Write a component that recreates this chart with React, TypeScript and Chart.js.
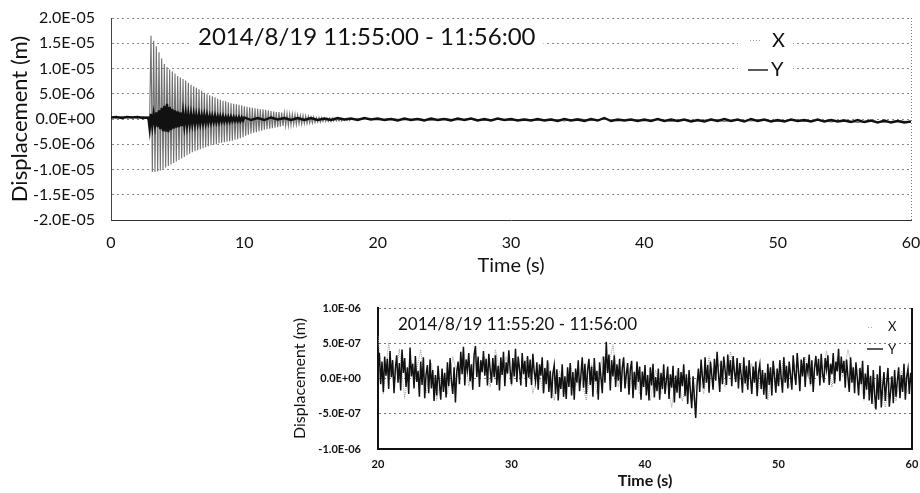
import React, { useEffect, useRef } from "react";
import { Chart, registerables } from "chart.js";

Chart.register(...registerables);

const FONT = "Lato, 'Noto Sans', sans-serif";
const UM = 1e-6; // top-chart series are written in micrometres
const U7 = 1e-7; // bottom-chart series are written in units of 1e-7 m

// ---------------- top chart: 2014/8/19 11:55:00 - 11:56:00 ----------------
const topTitle = "2014/8/19 11:55:00 - 11:56:00";
const topXTickValues = [0, 10, 20, 30, 40, 50, 60];
const topXTickLabels = ["0", "10", "20", "30", "40", "50", "60"];
const topYTickValues = [-2e-5, -1.5e-5, -1e-5, -5e-6, 0, 5e-6, 1e-5, 1.5e-5, 2e-5];
const topYTickLabels = ["-2.0E-05", "-1.5E-05", "-1.0E-05", "-5.0E-06", "0.0E+00", "5.0E-06", "1.0E-05", "1.5E-05", "2.0E-05"];

// X direction (grey), before the event: t = 0 .. 2.8 s, every 0.4 s
const topXPreStart = 0;
const topXPreStep = 0.4;
const topXPre = [0.4, 0.2, 0.5, 0.3, 0.4, 0.2, 0.5, 0.3];
// X direction, the ringing event: t = 2.9 .. 18.0 s, every 0.1 s
const topXEventStart = 2.9;
const topXEventStep = 0.1;
const topXEvent = [
  0.3,
  16.5, -10.5, 15.5, -10.5, 14.4, -10.4, 13.2, -10.2, 12.0, -9.9,
  10.9, -9.6, 10.3, -9.3, 9.8, -9.0, 9.4, -8.7, 9.0, -8.4,
  8.5, -8.1, 8.2, -7.8, 7.9, -7.5, 7.6, -7.2, 7.2, -6.9,
  6.8, -6.6, 6.5, -6.4, 6.2, -6.2, 5.9, -6.0, 5.6, -5.8,
  5.2, -5.6, 4.9, -5.4, 4.7, -5.2, 4.5, -5.1, 4.3, -5.0,
  4.0, -4.8, 3.8, -4.7, 3.6, -4.6, 3.5, -4.5, 3.3, -4.4,
  3.1, -4.3, 3.0, -4.1, 2.9, -4.0, 2.8, -3.8, 2.7, -3.6,
  2.5, -3.3, 2.4, -3.1, 2.3, -2.9, 2.2, -2.7, 2.1, -2.6,
  2.0, -2.4, 1.9, -2.3, 1.9, -2.1, 1.8, -2.0, 1.7, -1.9,
  1.6, -1.8, 1.5, -1.7, 1.4, -1.6, 1.4, -1.5, 1.3, -1.4,
  1.2, -1.3, 1.1, -1.3, 1.0, -1.2, 1.0, -1.1, 0.9, -1.1,
  0.8, -1.0, 0.7, -1.0, 0.7, -0.9, 0.6, -0.9, 0.5, -0.8,
  0.4, -0.8, 0.4, -0.7, 0.3, -0.6, 0.3, -0.6, 0.3, -0.5,
  0.2, -0.5, 0.2, -0.5, 0.2, -0.5, 0.2, -0.4, 0.1, -0.4,
  0.1, -0.4, 0.1, -0.4, 0.1, -0.3, 0.1, -0.3, 0.1, -0.3,
  0.0,
];
// X direction after the event: t = 19 .. 60 s, every 1 s
const topXPostStart = 19;
const topXPostStep = 1;
const topXPost = [
  0.1, -0.2, 0.1, -0.2, 0.1, -0.3, 0.1, -0.2, 0.1, -0.3,
  0.0, -0.3, 0.0, -0.3, 0.0, -0.4, 0.1, -0.3, 0.0, -0.4,
  -0.1, -0.4, 0.0, -0.5, -0.1, -0.4, 0.0, -0.5, -0.1, -0.4,
  -0.1, -0.5, -0.1, -0.5, -0.2, -0.6, -0.2, -0.7, -0.3, -0.7,
  -0.3, -0.6,
];

// Y direction (black), before the event: t = 0 .. 2.8 s, every 0.4 s
const topYPreStart = 0;
const topYPreStep = 0.4;
const topYPre = [0.3, 0.4, 0.2, 0.4, 0.3, 0.4, 0.2, 0.3];
// Y direction, the burst: t = 2.9 .. 9.9 s, every 0.1 s
const topYEventStart = 2.9;
const topYEventStep = 0.1;
const topYEvent = [
  -2.0,
  1.0, -1.4, 0.9, -1.2, 1.3, -1.6, 1.7, -2.0, 2.2, -2.4,
  2.6, -2.5, 3.0, -2.6, 2.4, -2.2, 2.0, -1.9, 1.7, -1.7,
  1.5, -1.6, 1.3, -1.4, 1.2, -1.3, 1.1, -1.2, 1.0, -1.1,
  0.9, -1.0, 0.9, -1.0, 0.8, -0.9, 0.8, -0.9, 0.7, -0.8,
  0.8, -0.8, 0.7, -0.7, 0.6, -0.7, 0.6, -0.6, 0.6, -0.6,
  0.5, -0.6, 0.5, -0.5, 0.5, -0.5, 0.4, -0.5, 0.4, -0.5,
  0.4, -0.4, 0.4, -0.4, 0.3, -0.4, 0.3, -0.4, 0.3, -0.3,
];
// Y direction after the burst: t = 10 .. 60 s, every 0.5 s
const topYPostStart = 10;
const topYPostStep = 0.5;
const topYPost = [
  0.3, -0.2, 0.2, -0.2, 0.3, -0.1, 0.2, -0.2, 0.2, -0.2,
  0.2, -0.2, 0.1, -0.2, 0.2, -0.1, 0.1, -0.2, 0.2, -0.1,
  0.1, -0.2, 0.0, -0.3, 0.1, -0.2, 0.0, -0.3, 0.1, -0.2,
  0.0, -0.3, 0.1, -0.2, 0.1, -0.3, 0.0, -0.3, 0.1, -0.2,
  0.0, -0.3, -0.1, -0.3, 0.0, -0.3, -0.1, -0.4, 0.0, -0.3,
  -0.1, -0.4, 0.0, -0.3, 0.2, -0.4, -0.1, -0.3, -0.1, -0.4,
  -0.1, -0.4, 0.0, -0.4, -0.1, -0.4, -0.1, -0.5, -0.2, -0.5,
  -0.1, -0.4, 0.0, -0.4, -0.1, -0.5, 0.0, -0.4, -0.1, -0.5,
  -0.2, -0.5, -0.1, -0.4, -0.2, -0.5, -0.1, -0.5, -0.2, -0.5,
  -0.3, -0.6, -0.2, -0.6, -0.3, -0.7, -0.3, -0.7, -0.4, -0.7,
  -0.5,
];

// ---------------- bottom chart: 2014/8/19 11:55:20 - 11:56:00 ----------------
const botTitle = "2014/8/19 11:55:20 - 11:56:00";
const botXTickValues = [20, 30, 40, 50, 60];
const botXTickLabels = ["20", "30", "40", "50", "60"];
const botYTickValues = [-1e-6, -5e-7, 0, 5e-7, 1e-6];
const botYTickLabels = ["-1.0E-06", "-5.0E-07", "0.0E+00", "5.0E-07", "1.0E-06"];

// Y direction (black): t = 20 .. 60 s, every 0.1 s (one row per second)
const botYStart = 20;
const botYStep = 0.1;
const botY = [
  1.2, 3.6, -0.8, 2.4, -1.9, 3.1, 0.4, 2.8, -1.5, 3.9,
  0.2, 2.6, -2.1, 1.4, 3.3, -0.6, 2.2, -1.7, 4.1, 0.8,
  2.9, -1.2, 1.6, -2.2, 4.4, 0.3, 2.1, -1.4, 3.2, -0.5,
  1.1, -2.6, 2.4, -0.9, 3.0, -2.8, 0.6, 1.9, -2.1, 2.7,
  -1.4, 1.2, -3.2, 0.5, -2.4, 1.8, -0.7, -3.0, 1.4, -1.9,
  0.8, -2.7, 2.3, -1.1, 2.9, -0.4, -2.2, 1.6, -3.4, 0.9,
  2.4, -0.8, 3.8, 0.6, 4.5, -1.0, 2.7, 1.2, 3.6, -0.4,
  2.0, -1.6, 3.4, 4.6, 0.2, 3.1, -1.2, 2.6, 0.9, 3.9,
  0.4, 2.8, -1.0, 3.5, 1.3, -0.6, 2.9, 0.2, 3.3, -0.9,
  1.8, -1.7, 3.0, 0.5, 3.8, -1.1, 2.3, 0.7, 4.0, 1.2,
  -0.8, 2.9, 0.3, 4.2, -0.5, 3.1, 1.4, -1.0, 3.6, 0.6,
  2.5, -1.2, 3.2, 0.1, 2.7, -0.9, 3.5, 1.0, -0.4, 2.3,
  -1.6, 2.0, 0.4, 3.0, -2.1, 1.5, -0.8, 2.6, -1.9, 1.1,
  -2.8, 0.7, 1.9, -2.2, 1.3, -3.1, 0.2, -1.5, 2.0, -2.6,
  0.3, -2.9, 1.6, -1.2, 2.2, -2.4, 0.9, -3.0, 1.4, -0.6,
  2.6, -1.8, 0.5, 3.0, -1.3, 2.1, -2.2, 1.2, 2.8, -0.9,
  1.7, -2.6, 2.9, -0.4, 1.1, -3.0, 2.3, 0.2, -2.1, 3.1,
  -0.6, 5.2, 0.8, 3.4, -1.7, 2.6, 0.3, 3.3, -1.2, 2.0,
  -0.3, 2.8, -1.9, 1.5, 3.0, -1.4, 0.6, 2.2, -2.3, 1.3,
  2.5, -2.8, 0.9, -1.6, 2.4, -0.5, 1.7, -3.0, 1.0, -1.2,
  1.9, -2.4, 0.5, -3.1, 1.6, -1.0, 2.1, -2.7, 0.2, -1.8,
  1.4, -3.0, 0.8, -1.5, 2.0, -2.2, -0.3, 1.7, -2.9, 0.6,
  -1.3, 1.8, -3.4, 0.4, -2.0, 1.5, -2.8, 0.9, -1.1, 2.0,
  -2.5, 0.6, -3.6, 1.2, -1.8, -4.2, 0.3, -2.7, -5.6, -1.0,
  1.4, -1.9, 2.7, 0.2, -1.4, 3.0, -0.6, 1.9, -2.0, 2.4,
  0.5, -1.6, 2.8, -0.3, 3.8, 0.7, -1.9, 2.5, -0.8, 3.1,
  1.2, -0.9, 3.4, 0.4, 2.6, -1.1, 3.2, 0.9, -0.5, 2.9,
  -1.4, 2.2, 0.6, -2.0, 3.0, -0.7, 1.8, -1.6, 2.6, 0.1,
  -2.2, 1.7, -0.6, 2.4, -2.5, 0.9, 2.0, -1.5, 1.2, -2.3,
  0.8, -2.9, 2.1, -0.9, 1.6, -2.4, 2.5, 0.3, -2.0, 1.4,
  -1.1, 2.6, 0.2, -2.0, 3.0, -0.6, 1.8, -1.4, 2.4, 0.5,
  -1.6, 3.3, 0.8, -0.9, 3.6, 1.1, -1.8, 2.7, 0.3, 3.0,
  -1.2, 2.2, 0.9, 3.4, -0.8, 2.6, -1.9, 1.5, 3.2, 0.4,
  2.8, -1.0, 3.5, 0.7, -0.6, 2.9, 1.3, 3.3, -0.9, 2.1,
  0.6, 3.6, -0.7, 2.4, 1.0, 4.2, -0.4, 3.1, 0.8, 2.5,
  -1.3, 2.7, 0.3, -1.9, 3.0, -0.6, 1.6, -2.1, 2.3, 0.1,
  -2.4, 1.5, -0.8, 2.5, -2.9, 0.7, -1.6, 1.9, -3.1, 0.4,
  -3.6, 1.2, -2.3, -4.4, 0.6, -3.0, 1.8, -4.1, -1.2, 0.9,
  -3.2, -0.6, 1.5, -4.0, -1.8, 0.3, -3.5, 1.2, -2.6, -0.4,
  1.6, -2.8, 0.5, -1.9, 2.1, -3.0, 0.2, 1.4, -2.2, 0.8,
  -1.0,
];
// X direction (grey): t = 20 .. 60 s, every 0.4 s
const botXStart = 20;
const botXStep = 0.4;
const botX = [
  6.0, -2.2, 5.1, -1.2, 4.2, -2.8, 3.1, 0.2, 4.1, -2.1,
  2.2, -3.1, 1.1, -2.2, 3.1, 0.2, 4.1, -1.1, 3.2, 0.1,
  3.1, -1.2, 4.1, 0.2, 3.1, -1.1, 2.2, 0.1, 3.2, -2.1,
  1.2, -2.1, 2.2, -3.1, 1.1, -2.2, 2.1, -1.1, 0.2, -3.1,
  2.1, -2.2, 3.1, 1.1, 4.8, -1.2, 2.2, -2.1, 1.1, -2.2,
  0.1, -3.1, 1.2, -2.2, 0.2, -4.1, 1.1, -3.2, 0.1, -3.1,
  1.1, -2.2, 3.1, 0.2, 2.1, -1.2, 3.8, 0.1, 2.2, -1.1,
  2.1, -2.2, 1.1, -3.1, 2.2, -1.1, 3.1, -1.2, 2.1, 0.2,
  3.1, -1.1, 2.2, 0.1, 3.9, -1.2, 3.1, 0.2, 4.1, 1.1,
  1.2, -3.1, 0.1, -4.2, 1.1, -4.1, 0.2, -3.2, 1.1, -2.1,
  0.0,
];

function samples(start: number, step: number, values: number[], unit: number) {
  return values.map((v, i) => ({ x: Math.round((start + i * step) * 1000) / 1000, y: v * unit }));
}

const topXData = [
  ...samples(topXPreStart, topXPreStep, topXPre, UM),
  ...samples(topXEventStart, topXEventStep, topXEvent, UM),
  ...samples(topXPostStart, topXPostStep, topXPost, UM),
];
const topYData = [
  ...samples(topYPreStart, topYPreStep, topYPre, UM),
  ...samples(topYEventStart, topYEventStep, topYEvent, UM),
  ...samples(topYPostStart, topYPostStep, topYPost, UM),
];
const botYData = samples(botYStart, botYStep, botY, U7);
const botXData = samples(botXStart, botXStep, botX, U7);

const topOverlay = {
  id: "topOverlay",
  afterDatasetsDraw(chart: any) {
    const { ctx, chartArea: a } = chart;
    ctx.save();
    // dotted right frame
    ctx.strokeStyle = "#777";
    ctx.lineWidth = 1;
    ctx.setLineDash([1, 2]);
    ctx.beginPath();
    ctx.moveTo(a.right + 0.5, a.top);
    ctx.lineTo(a.right + 0.5, a.bottom);
    ctx.stroke();
    ctx.setLineDash([]);
    // date/time caption
    ctx.font = `24px ${FONT}`;
    ctx.textBaseline = "middle";
    const tx = a.left + 87;
    const ty = a.top + 19;
    const w = ctx.measureText(topTitle).width;
    ctx.fillStyle = "#fff";
    ctx.fillRect(tx - 8, ty - 14, w + 16, 28);
    ctx.fillStyle = "#111";
    ctx.fillText(topTitle, tx, ty);
    // legend
    ctx.fillStyle = "#fff";
    ctx.fillRect(a.right - 173, a.top + 8, 55, 58);
    ctx.strokeStyle = "#999";
    ctx.lineWidth = 1;
    ctx.setLineDash([1, 2]);
    ctx.beginPath();
    ctx.moveTo(a.right - 161, a.top + 22.5);
    ctx.lineTo(a.right - 149, a.top + 22.5);
    ctx.stroke();
    ctx.setLineDash([]);
    ctx.strokeStyle = "#222";
    ctx.lineWidth = 1.5;
    ctx.beginPath();
    ctx.moveTo(a.right - 163, a.top + 52);
    ctx.lineTo(a.right - 143, a.top + 52);
    ctx.stroke();
    ctx.font = `20px ${FONT}`;
    ctx.fillStyle = "#111";
    ctx.fillText("X", a.right - 139, a.top + 23);
    ctx.fillText("Y", a.right - 140, a.top + 52);
    ctx.restore();
  },
};

const botOverlay = {
  id: "botOverlay",
  afterDatasetsDraw(chart: any) {
    const { ctx, chartArea: a } = chart;
    ctx.save();
    // solid right frame
    ctx.strokeStyle = "#111";
    ctx.lineWidth = 2;
    ctx.beginPath();
    ctx.moveTo(a.right, a.top);
    ctx.lineTo(a.right, a.bottom);
    ctx.stroke();
    // caption
    ctx.font = `17px ${FONT}`;
    ctx.textBaseline = "middle";
    ctx.fillStyle = "#111";
    ctx.fillText(botTitle, a.left + 20, a.top + 17);
    // legend
    ctx.strokeStyle = "#aaa";
    ctx.lineWidth = 1;
    ctx.setLineDash([1, 2]);
    ctx.beginPath();
    ctx.moveTo(a.right - 44, a.top + 19.5);
    ctx.lineTo(a.right - 38, a.top + 19.5);
    ctx.stroke();
    ctx.setLineDash([]);
    ctx.strokeStyle = "#222";
    ctx.lineWidth = 1.5;
    ctx.beginPath();
    ctx.moveTo(a.right - 45, a.top + 41);
    ctx.lineTo(a.right - 29, a.top + 41);
    ctx.stroke();
    ctx.font = `13px ${FONT}`;
    ctx.fillStyle = "#111";
    ctx.fillText("X", a.right - 24, a.top + 19);
    ctx.fillText("Y", a.right - 24, a.top + 42);
    ctx.restore();
  },
};

function topConfig(): any {
  return {
    type: "line",
    data: {
      datasets: [
        { label: "Y", data: topYData, borderColor: "#111", borderWidth: 2.4, pointRadius: 0, fill: false },
        { label: "X", data: topXData, borderColor: "#6e6e6e", borderWidth: 1.1, pointRadius: 0, fill: false },
      ],
    },
    options: {
      responsive: false,
      animation: false,
      events: [],
      layout: { padding: { top: 18, right: 9, left: 0, bottom: 0 } },
      plugins: { legend: { display: false }, tooltip: { enabled: false } },
      scales: {
        x: {
          type: "linear",
          min: 0,
          max: 60,
          afterFit: (s: any) => { s.height = 60; s.paddingLeft = 0; s.paddingRight = 0; },
          afterBuildTicks: (s: any) => { s.ticks = topXTickValues.map((v) => ({ value: v })); },
          ticks: {
            callback: (_v: any, i: number) => topXTickLabels[i],
            font: { family: FONT, size: 16 },
            color: "#111",
            padding: 13,
            maxRotation: 0,
            autoSkip: false,
          },
          grid: { display: false, drawTicks: false },
          border: { color: "#333", width: 1 },
          title: { display: true, text: "Time (s)", font: { family: FONT, size: 20 }, color: "#111", padding: { top: 0, bottom: 2 } },
        },
        y: {
          type: "linear",
          min: -2e-5,
          max: 2e-5,
          afterFit: (s: any) => { s.width = 111; s.paddingTop = 0; s.paddingBottom = 0; },
          afterBuildTicks: (s: any) => { s.ticks = topYTickValues.map((v) => ({ value: v })); },
          ticks: {
            callback: (_v: any, i: number) => topYTickLabels[i],
            font: { family: FONT, size: 16 },
            color: "#111",
            padding: 16,
            autoSkip: false,
          },
          grid: { color: "#888", drawTicks: false, lineWidth: 1 },
          border: { color: "#444", width: 1, dash: [2, 3] },
          title: { display: true, text: "Displacement (m)", font: { family: FONT, size: 22 }, color: "#111", padding: { top: 7, bottom: 0 } },
        },
      },
    },
    plugins: [topOverlay],
  };
}

function botConfig(): any {
  return {
    type: "line",
    data: {
      datasets: [
        { label: "Y", data: botYData, borderColor: "#111", borderWidth: 1.5, pointRadius: 0, fill: false },
        { label: "X", data: botXData, borderColor: "#9a9a9a", borderWidth: 1, borderDash: [1, 1], pointRadius: 0, fill: false },
      ],
    },
    options: {
      responsive: false,
      animation: false,
      events: [],
      layout: { padding: { top: 28, right: 8, left: 0, bottom: 0 } },
      plugins: { legend: { display: false }, tooltip: { enabled: false } },
      scales: {
        x: {
          type: "linear",
          min: 20,
          max: 60,
          afterFit: (s: any) => { s.height = 44; s.paddingLeft = 0; s.paddingRight = 0; },
          afterBuildTicks: (s: any) => { s.ticks = botXTickValues.map((v) => ({ value: v })); },
          ticks: {
            callback: (_v: any, i: number) => botXTickLabels[i],
            font: { family: FONT, size: 11, weight: "bold" },
            color: "#111",
            padding: 9,
            maxRotation: 0,
            autoSkip: false,
          },
          grid: { display: false, drawTicks: false },
          border: { color: "#111", width: 2 },
          title: { display: true, text: "Time (s)", font: { family: FONT, size: 16, weight: "bold" }, color: "#111", padding: { top: 0, bottom: 3 } },
        },
        y: {
          type: "linear",
          min: -1e-6,
          max: 1e-6,
          afterFit: (s: any) => { s.width = 98; s.paddingTop = 0; s.paddingBottom = 0; },
          afterBuildTicks: (s: any) => { s.ticks = botYTickValues.map((v) => ({ value: v })); },
          ticks: {
            callback: (_v: any, i: number) => botYTickLabels[i],
            font: { family: FONT, size: 11, weight: "bold" },
            color: "#111",
            padding: 17,
            autoSkip: false,
          },
          grid: { color: "#777", drawTicks: false, lineWidth: 1 },
          border: { color: "#111", width: 2, dash: [2, 3] },
          title: { display: true, text: "Displacement (m)", font: { family: FONT, size: 16 }, color: "#111", padding: { top: 10, bottom: 0 } },
        },
      },
    },
    plugins: [botOverlay],
  };
}

function ChartBox(props: { left: number; top: number; width: number; height: number; build: () => any }) {
  const { left, top, width, height, build } = props;
  const ref = useRef<HTMLCanvasElement>(null);
  useEffect(() => {
    const chart = new Chart(ref.current as HTMLCanvasElement, build());
    return () => chart.destroy();
  }, []);
  return (
    <div style={{ position: "absolute", left, top, width, height }}>
      <canvas ref={ref} width={width} height={height} style={{ width, height, display: "block" }} />
    </div>
  );
}

export default function App() {
  return (
    <div style={{ position: "absolute", left: 0, top: 0, width: 920, height: 493, background: "#fff", overflow: "hidden" }}>
      <ChartBox left={0} top={0} width={920} height={280} build={topConfig} />
      <ChartBox left={280} top={280} width={640} height={213} build={botConfig} />
    </div>
  );
}
